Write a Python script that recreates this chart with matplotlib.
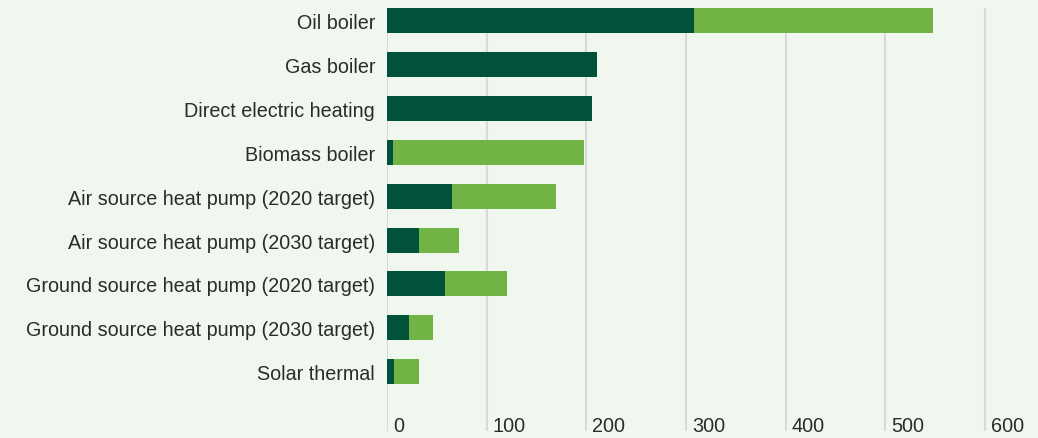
import numpy as np
import matplotlib.pyplot as plt
import matplotlib.transforms as mtransforms

# data
categories = ['Oil boiler', 'Gas boiler', 'Direct electric heating', 'Biomass boiler',
              'Air source heat pump (2020 target)', 'Air source heat pump (2030 target)',
              'Ground source heat pump (2020 target)', 'Ground source heat pump (2030 target)',
              'Solar thermal']
dark_vals = [308, 211, 206, 6, 65.5, 32.5, 58.5, 22, 7.5]
light_vals = [240, 0, 0, 192, 104.5, 39.5, 61.5, 24, 25]
xticks = [0, 100, 200, 300, 400, 500, 600]

bg = '#f0f7ee'
dark = '#00533a'
light = '#72b345'
textc = '#2b2b2b'

plt.rcParams['font.family'] = ['Liberation Sans', 'DejaVu Sans']

fig = plt.figure(figsize=(10.38, 4.39), dpi=100, facecolor=bg)
ax = fig.add_axes([387 / 1038, 1 - 432 / 439, 651 / 1038, 423 / 439])
ax.set_facecolor(bg)

y = np.arange(len(categories))
h = 0.57
ax.barh(y, dark_vals, height=h, color=dark, zorder=3)
ax.barh(y, light_vals, left=dark_vals, height=h, color=light, zorder=3)

ax.set_ylim(9.35, -h / 2)
ax.set_xlim(0, 653)

ax.set_yticks(y)
ax.set_yticklabels(categories, fontsize=14.2, color=textc)
ax.tick_params(axis='y', length=0, pad=8.6)

ax.set_xticks(xticks)
ax.set_xticklabels([str(t) for t in xticks], fontsize=14.3, color=textc)
ax.tick_params(axis='x', length=0, pad=0)
offset = mtransforms.ScaledTranslation(6 / 100, 0, fig.dpi_scale_trans)
for lab in ax.get_xticklabels():
    lab.set_ha('left')
    lab.set_va('baseline')
    lab.set_transform(lab.get_transform() + offset)

ax.grid(axis='x', color='#d9d9d9', linewidth=1.5, zorder=0)
for s in ax.spines.values():
    s.set_visible(False)

fig.savefig('out.png', dpi=100, facecolor=bg)
